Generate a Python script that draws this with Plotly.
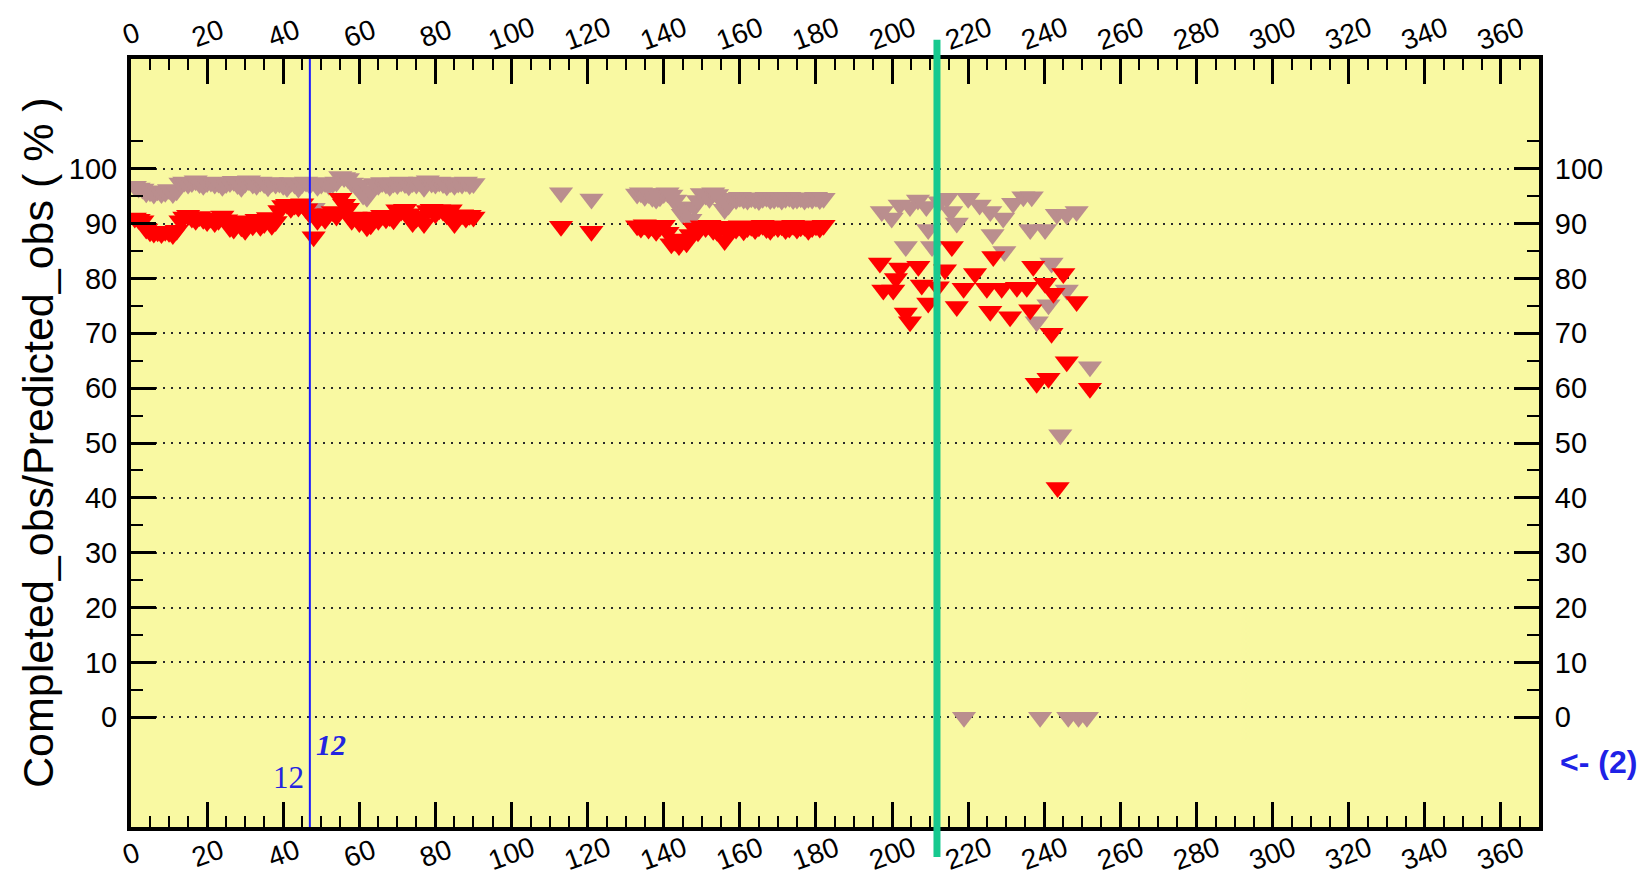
import plotly.graph_objects as go

# ---- data ----
# block 1: one point per day, days 1-90
days_1 = list(range(1, 91))
brown_1 = [96.8, 96.5, 96.3,
           95.6, 95.8, 95.4, 96.0, 95.5, 95.7, 96.2, 95.5, 96.0,
           97.4, 97.6, 97.2, 97.5, 97.8, 97.3, 97.0, 97.5, 97.6, 97.2, 97.4, 96.8, 97.3,
           97.5, 97.7, 97.1, 96.6, 97.4, 97.8, 97.2,
           97.0, 97.6, 97.3, 96.7, 97.5, 97.2,
           97.4, 97.0, 96.6, 97.5, 97.2, 96.5, 97.3, 97.6,
           97.1, 92.8, 96.8, 97.2, 97.5,
           97.0, 97.3, 97.6,
           98.6, 98.4, 98.2,
           97.4, 97.0, 96.8, 95.2, 94.8, 96.0,
           97.3, 97.0, 97.5, 97.2, 96.8, 97.4,
           97.1, 97.6, 97.3, 96.9,
           97.5, 97.2, 97.6, 96.6,
           97.8, 97.4, 97.2, 97.6, 97.3, 96.9, 97.5,
           97.0, 97.4, 97.2, 97.6, 97.1, 97.3]
red_1 = [91.0, 90.8, 90.5,
         89.0, 88.5, 88.3, 88.5, 88.2, 88.6, 88.4, 88.0, 88.8,
         90.5, 91.2, 91.5, 91.0, 90.6, 91.3, 90.8, 90.4, 91.0, 90.2, 90.6, 91.4, 90.7,
         89.3, 89.0, 90.5, 89.4, 88.8, 90.2, 89.6,
         90.8, 89.5, 90.0, 91.1, 89.7, 90.4,
         92.4, 93.3, 93.5, 92.8, 93.4, 93.0, 93.6, 92.7,
         91.8, 87.6, 90.6, 91.5, 90.8,
         91.8, 92.2, 91.4,
         94.6, 93.5, 92.8,
         90.6, 91.2, 90.2, 90.8, 89.4, 89.8,
         91.2, 90.6, 91.5, 90.9, 91.3, 90.7,
         92.5, 92.3, 92.6, 91.8,
         90.2, 91.0, 91.4, 90.0,
         92.4, 92.6, 91.8, 92.5, 92.3, 91.6, 92.5,
         90.0, 91.2, 91.6, 91.0, 91.5, 91.2]

# block 2: two isolated days
days_2 = [113, 121]
brown_2 = [95.6, 94.5]
red_2 = [89.5, 88.6]

# block 3: days 133-182
days_3 = list(range(133, 183))
brown_3 = [95.4, 95.6, 95.0, 95.5, 94.8,
           94.5, 94.9, 95.5,
           95.6, 95.2, 94.3,
           93.0, 91.7, 92.8,
           90.8, 93.0, 94.2,
           95.5, 95.2, 94.6, 95.6, 95.3, 94.5,
           92.6, 93.4,
           94.6, 94.4, 94.8, 94.5, 94.3, 94.7, 94.5, 94.2, 94.6, 94.8, 94.4, 94.5, 94.7,
           94.3, 94.6, 94.8, 94.4, 94.5, 94.7, 94.3, 94.6, 94.5, 94.8, 94.4, 94.6]
red_3 = [89.6, 89.2, 89.8, 89.0, 89.5,
         88.6, 89.4, 89.7,
         88.4, 86.3, 86.8,
         86.0, 87.2, 86.5,
         88.0, 89.2, 88.5,
         89.6, 89.3, 89.7, 88.8, 88.6, 89.5,
         86.9, 88.2,
         89.4, 89.0, 89.6, 88.7, 89.3, 89.5, 88.9, 89.4, 89.7, 89.1, 88.8, 89.5, 89.3,
         89.6, 88.9, 89.2, 89.7, 89.0, 89.4, 89.5, 88.8, 89.3, 89.6, 89.2, 89.7]

# block 4: scattered points after day 195
days_4_brown = [197.3, 199.9, 202.0, 203.6, 204.7, 206.8, 209.0, 209.5, 210.5, 212.5,
                214.4, 215.5, 217.0, 218.9, 220.0, 223.0, 225.8, 226.4, 229.2, 229.5,
                231.8, 234.5, 236.3, 236.7, 238.0, 238.9, 240.2, 241.1, 241.9, 243.3,
                244.2, 245.9, 245.9, 246.3, 248.5, 249.0, 251.2, 252.0]
brown_4 = [92.2, 91.0, 93.4, 85.8, 93.1, 94.3, 93.1, 88.9, 85.8, 94.0,
           94.6, 92.2, 90.1, 0.0, 94.6, 93.4, 92.2, 88.0, 91.0, 84.9,
           93.7, 94.9, 88.9, 94.9, 72.1, 0.0, 88.9, 75.2, 82.8, 91.7,
           51.5, 77.9, 91.6, 0.0, 92.2, 0.0, 0.0, 63.9]
days_4_red = [196.8, 197.7, 200.3, 201.0, 202.1, 203.6, 204.7, 206.9, 207.8, 209.5,
              212.0, 213.9, 215.7, 217.0, 218.8, 221.8, 224.9, 225.8, 226.6, 228.8,
              231.0, 232.8, 235.4, 236.3, 237.1, 238.0, 240.2, 241.1, 241.9, 242.4,
              243.5, 245.0, 245.9, 248.5, 252.0]
red_4 = [82.8, 77.9, 77.9, 80.0, 81.9, 73.7, 72.1, 82.2, 78.8, 75.5,
         78.5, 81.6, 85.8, 74.9, 78.2, 80.9, 78.2, 74.0, 84.0, 78.2,
         73.0, 78.4, 78.4, 74.3, 82.2, 60.9, 79.1, 61.8, 70.0, 77.3,
         41.9, 80.9, 64.8, 75.8, 60.0]

x_ticks = [0, 20, 40, 60, 80, 100, 120, 140, 160, 180,
           200, 220, 240, 260, 280, 300, 320, 340, 360]
y_ticks = [0, 10, 20, 30, 40, 50, 60, 70, 80, 90, 100]

blue_line_x = 47
green_line_x = 211.8

BROWN = "#BA8E8E"
RED = "#FF0000"
FONT = "Liberation Sans, Arial, sans-serif"

brown_x = days_1 + days_2 + days_3 + days_4_brown
brown_y = brown_1 + brown_2 + brown_3 + brown_4
red_x = days_1 + days_2 + days_3 + days_4_red
red_y = red_1 + red_2 + red_3 + red_4

fig = go.Figure()
fig.add_trace(go.Scatter(x=brown_x, y=brown_y, mode="markers", hoverinfo="skip",
                         marker=dict(symbol="triangle-down", size=21, color=BROWN)))
fig.add_trace(go.Scatter(x=red_x, y=red_y, mode="markers", hoverinfo="skip",
                         marker=dict(symbol="triangle-down", size=21, color=RED)))
# empty trace so the mirrored top/right axes get drawn
fig.add_trace(go.Scatter(x=[None], y=[None], xaxis="x2", yaxis="y2", hoverinfo="skip"))

x_minor = [v for v in range(5, 370, 5) if v % 20]
y_minor = [5, 15, 25, 35, 45, 55, 65, 75, 85, 95, 105]

xcommon = dict(range=[0, 370], tickvals=x_ticks, showticklabels=False,
               ticks="inside", ticklen=25, tickwidth=2.5, tickcolor="black",
               minor=dict(tickvals=x_minor, ticks="inside", ticklen=11, tickwidth=2,
                          tickcolor="black", showgrid=False),
               showgrid=False, zeroline=False, showline=True, linewidth=4, linecolor="black",
               automargin=False)
ycommon = dict(range=[-20, 120], tickvals=y_ticks, ticktext=[str(v) for v in y_ticks],
               ticks="inside", ticklen=25, tickwidth=3, tickcolor="black",
               minor=dict(tickvals=y_minor, ticks="inside", ticklen=12, tickwidth=2,
                          tickcolor="black", showgrid=False),
               tickfont=dict(family=FONT, size=29, color="black"),
               zeroline=False, showline=True, linewidth=4, linecolor="black",
               automargin=False)

# the page body adds 8px, so margins are trimmed to keep the plot box in place
fig.update_layout(
    width=1650, height=876,
    margin=dict(l=123, r=119, t=51, b=57),
    paper_bgcolor="white", plot_bgcolor="#F9F9A2",
    showlegend=False,
    xaxis=dict(**xcommon, side="bottom", anchor="y"),
    xaxis2=dict(**xcommon, side="top", anchor="y", overlaying="x"),
    yaxis=dict(**ycommon, side="left", anchor="x", ticklabelstandoff=4,
               showgrid=True, gridcolor="#2a2a2a", gridwidth=2, griddash="2px,6px"),
    yaxis2=dict(**ycommon, side="right", anchor="x", overlaying="y", ticklabelstandoff=6,
                showgrid=False),
)

# vertical marker lines
fig.add_shape(type="line", xref="x", yref="paper", x0=blue_line_x, x1=blue_line_x,
              y0=0, y1=1, line=dict(color="#1A1AFF", width=2), layer="above")
fig.add_shape(type="line", xref="x", yref="paper", x0=green_line_x, x1=green_line_x,
              y0=-0.039, y1=1.025, line=dict(color="#17C98F", width=7), layer="above")

# rotated x tick labels, top and bottom
for v in x_ticks:
    for yy, shift in ((1, 26), (0, -26)):
        fig.add_annotation(x=v, xref="x", y=yy, yref="paper", yshift=shift,
                           text=str(v), showarrow=False, textangle=-20,
                           xanchor="center", yanchor="middle",
                           font=dict(family=FONT, size=28, color="black"))

fig.add_annotation(x=-0.066, xref="paper", y=0.5, yref="paper",
                   text="Completed_obs/Predicted_obs ( % )", textangle=-90,
                   showarrow=False, xanchor="center", yanchor="middle",
                   font=dict(family=FONT, size=43, color="black"))

fig.add_annotation(x=blue_line_x, xref="x", y=-11, yref="y", xshift=-4,
                   text="12", showarrow=False, xanchor="right", yanchor="middle",
                   font=dict(family="Liberation Serif, Times New Roman, serif", size=31,
                             color="#2424E0"))
fig.add_annotation(x=blue_line_x, xref="x", y=-5, yref="y", xshift=4,
                   text="<b><i>12</i></b>", showarrow=False, xanchor="left", yanchor="middle",
                   font=dict(family="Liberation Serif, Times New Roman, serif", size=30,
                             color="#2424E0"))
fig.add_annotation(x=1.0426, xref="paper", y=-8.2, yref="y",
                   text="<b>&lt;- (2)</b>", showarrow=False, xanchor="center", yanchor="middle",
                   font=dict(family=FONT, size=32, color="#1E22E6"))

fig.write_html("out.html")
